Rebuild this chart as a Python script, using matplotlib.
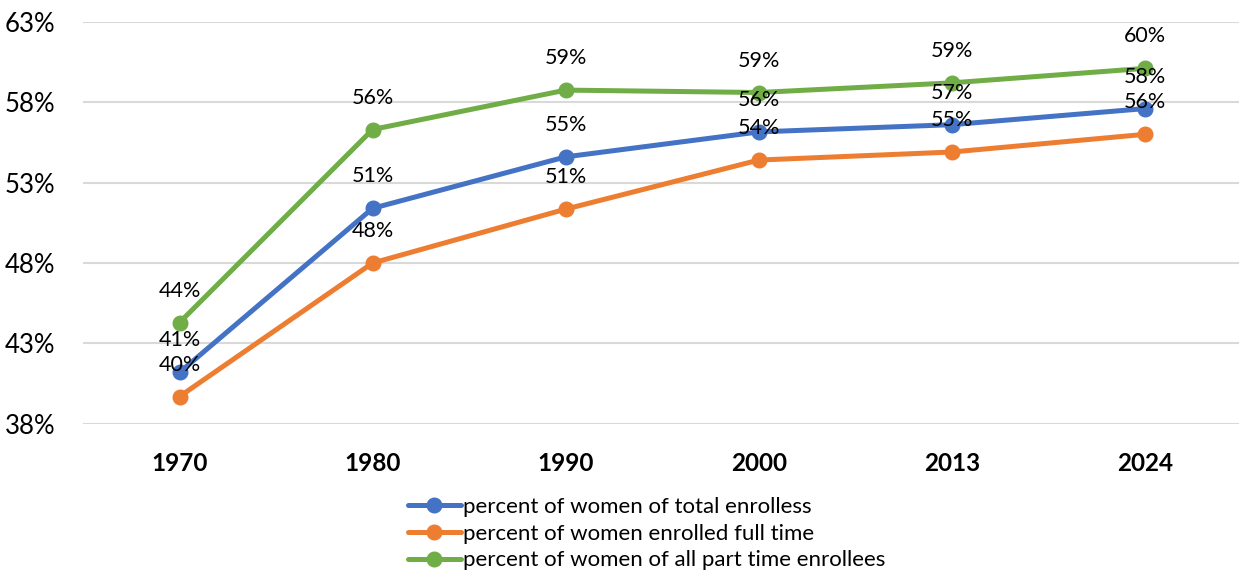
import matplotlib
matplotlib.use("Agg")
import matplotlib.pyplot as plt

plt.rcParams['font.family'] = ['Lato', 'DejaVu Sans']

# Enrollment shares by year (percent)
years = ['1970', '1980', '1990', '2000', '2013', '2024']
total_enrollees = [41.2, 51.4, 54.6, 56.15, 56.6, 57.6]
full_time = [39.7, 48.0, 51.35, 54.4, 54.9, 56.0]
part_time = [44.3, 56.3, 58.75, 58.6, 59.2, 60.1]

series = [
    ('percent of women of total enrolless', total_enrollees, '#4472C4'),
    ('percent of women enrolled full time', full_time, '#ED7D31'),
    ('percent of women of all part time enrollees', part_time, '#70AD47'),
]

fig = plt.figure(figsize=(12.39, 5.72), dpi=100)
ax = fig.add_axes([0.067, 0.259, 0.935, 0.703])

x = list(range(len(years)))
for name, vals, color in series:
    ax.plot(x, vals, color=color, lw=3.6, marker='o', markersize=10.5,
            label=name, solid_capstyle='round')
    for xi, v in zip(x, vals):
        ax.annotate(f'{round(v):.0f}%', (xi, v), xytext=(0, 23),
                    textcoords='offset points', ha='center', va='center',
                    fontsize=15.5, color='#000000')

ax.set_xlim(-0.5, len(years) - 0.5)
ax.set_ylim(38, 63)
ax.set_yticks([38, 43, 48, 53, 58, 63])
ax.set_yticklabels([f'{t}%' for t in [38, 43, 48, 53, 58, 63]], fontsize=18.5)
ax.set_xticks(x)
ax.set_xticklabels(years, fontsize=17.5, fontweight='bold')
ax.tick_params(axis='both', length=0)
ax.tick_params(axis='y', pad=20)
ax.tick_params(axis='x', pad=20)

ax.grid(axis='y', color='#D9D9D9', lw=1.5)
ax.set_axisbelow(True)
for s in ax.spines.values():
    s.set_visible(False)

fig.legend(loc='upper left', bbox_to_anchor=(0.329, 0.131), frameon=False,
           fontsize=16, handlelength=2.4, handletextpad=0.1,
           labelspacing=0.3, borderaxespad=0, borderpad=0)

fig.savefig('out.png', dpi=100)
